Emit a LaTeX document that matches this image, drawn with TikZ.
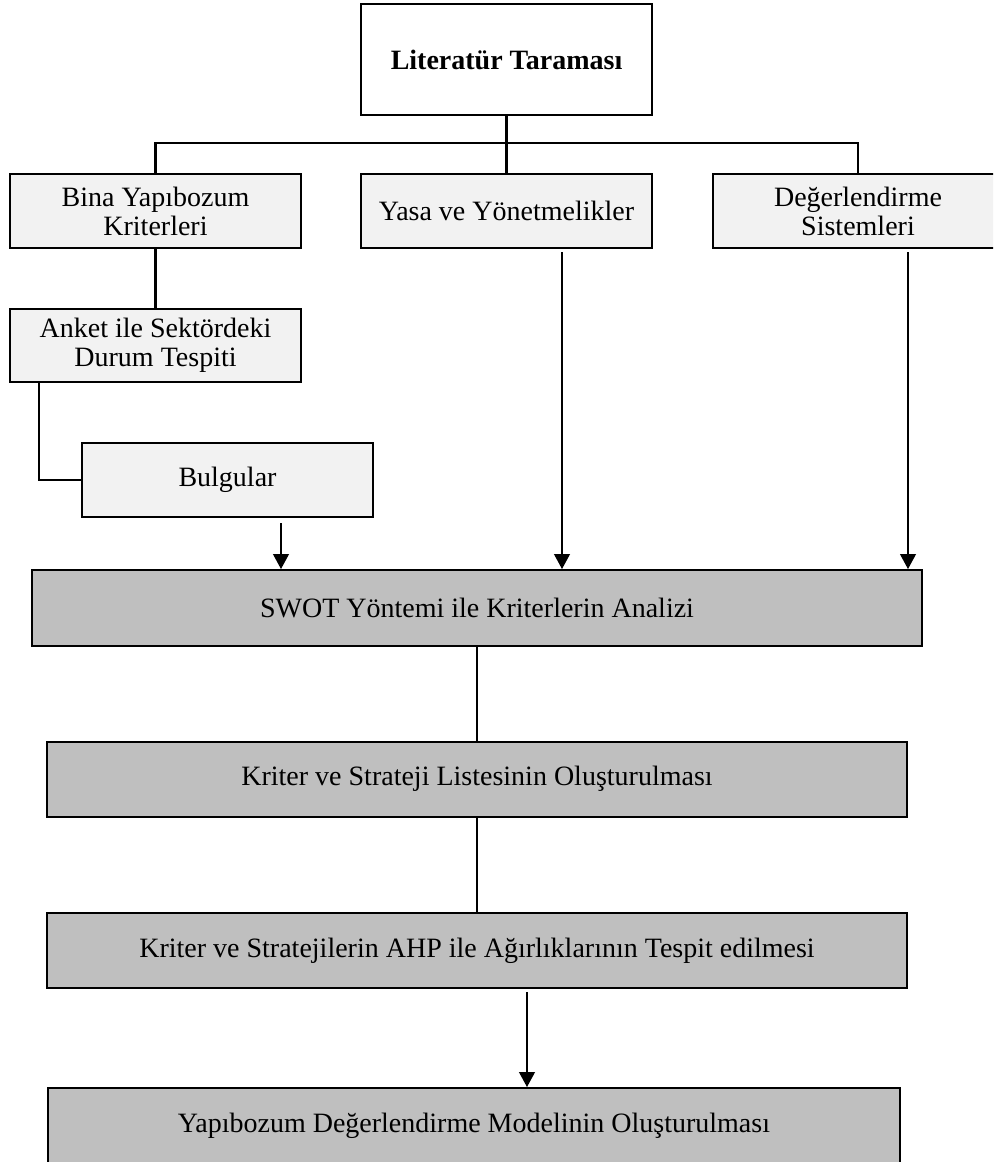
\documentclass[tikz,border=0pt]{standalone}
\usepackage{fontspec}
\setmainfont{Liberation Serif}
\usetikzlibrary{arrows.meta}
\definecolor{lightbox}{HTML}{F2F2F2}
\definecolor{darkbox}{HTML}{BFBFBF}
\tikzset{
  base/.style={draw=black, line width=1pt, rectangle, inner sep=0pt, align=center,
    font=\fontsize{14}{14.5}\selectfont},
  topbox/.style={base, fill=white, minimum width=145.5pt, minimum height=55.5pt},
  lightnode/.style={base, fill=lightbox, minimum width=145.5pt, minimum height=37pt},
  darknode/.style={base, fill=darkbox, minimum height=37.5pt},
  treeline/.style={line width=1.1pt},
  arrline/.style={line width=0.55pt, -{Triangle[length=7.5pt,width=8pt]}}
}
\begin{document}
\begin{tikzpicture}[x=0.5pt,y=-0.5pt]
\clip (0,0) rectangle (993,1162);
\fill[white] (0,0) rectangle (993,1162);

\node[topbox] (lit) at (506.5,59.5) {\textbf{Literatür Taraması}};

\node[lightnode] (bina) at (155.5,211) {Bina Yapıbozum\\Kriterleri};
\node[lightnode] (yasa) at (506.5,211) {Yasa ve Yönetmelikler};
\node[lightnode] (deger) at (858,211) {Değerlendirme\\Sistemleri};
\node[lightnode, minimum height=36.5pt] (anket) at (155.5,345.5) {Anket ile Sektördeki\\Durum Tespiti};
\node[lightnode] (bulg) at (227.5,480) {Bulgular};

\node[darknode, minimum width=445pt, minimum height=38pt] (swot) at (477,608) {SWOT Yöntemi ile Kriterlerin Analizi};
\node[darknode, minimum width=429.75pt] (krit) at (477,779) {Kriter ve Strateji Listesinin Oluşturulması};
\node[darknode, minimum width=429.75pt] (ahp) at (477,950.5) {Kriter ve Stratejilerin AHP ile Ağırlıklarının Tespit edilmesi};
\node[darknode, minimum width=426pt] (yap) at (474,1125.5) {Yapıbozum Değerlendirme Modelinin Oluşturulması};

% tree connectors
\draw[treeline] (lit.south) -- (yasa.north);
\draw[treeline] (bina.north) -- ++(0,-30) -| (deger.north);
\draw[treeline] (bina.south) -- (anket.north);
\draw[treeline] ([xshift=-58.25pt]anket.south) |- (bulg.west);
\draw[treeline] (swot.south) -- (krit.north);
\draw[treeline] (krit.south) -- (ahp.north);

% arrows
\draw[arrline, shorten <=2.5pt] ([xshift=26.75pt]bulg.south) -- ([xshift=26.75pt]bulg.south |- swot.north);
\draw[arrline, shorten <=1.5pt] ([xshift=27.75pt]yasa.south) -- ([xshift=27.75pt]yasa.south |- swot.north);
\draw[arrline, shorten <=1.5pt] ([xshift=25pt]deger.south) -- ([xshift=25pt]deger.south |- swot.north);
\draw[arrline, shorten <=1.5pt] ([xshift=25pt]ahp.south) -- ([xshift=25pt]ahp.south |- yap.north);
\end{tikzpicture}
\end{document}
